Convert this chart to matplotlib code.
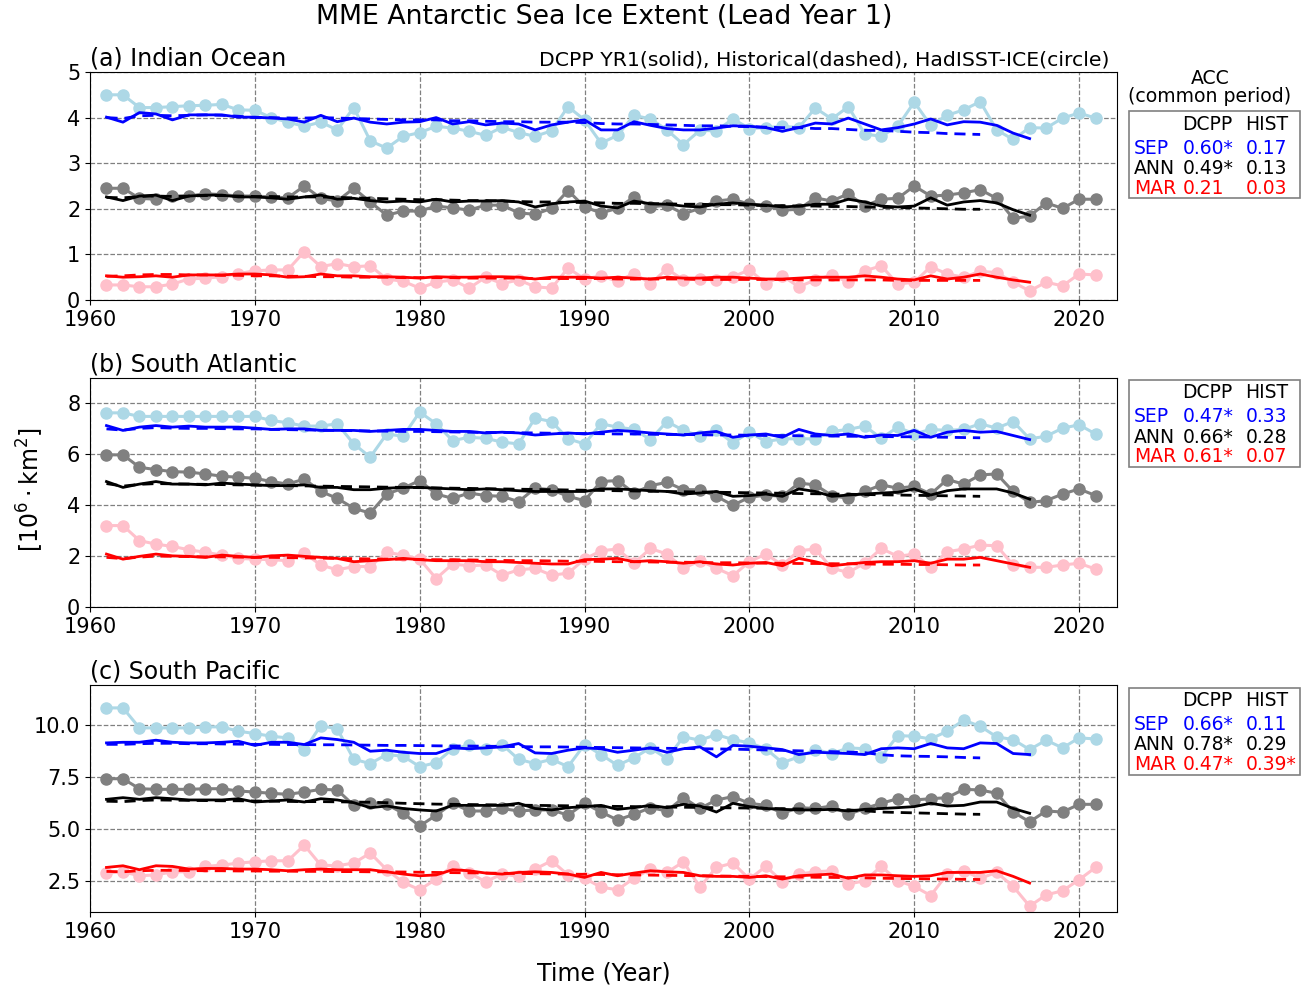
import numpy as np
import matplotlib
matplotlib.use("Agg")
import matplotlib.pyplot as plt
from matplotlib.patches import Rectangle

# ---------------- data ----------------
obs_start = 1961
dcpp_start = 1961
hist_start = 1961

regions = ["(a) Indian Ocean", "(b) South Atlantic", "(c) South Pacific"]

# Observations (HadISST-ICE), 1961-2021
obs_sep_a = [4.50, 4.50, 4.22, 4.22, 4.24, 4.26, 4.27, 4.29, 4.17, 4.16, 4.00, 3.90, 3.81, 3.90, 3.73, 4.22,
             3.49, 3.33, 3.59, 3.67, 3.81, 3.77, 3.70, 3.61, 3.79, 3.67, 3.59, 3.71, 4.24, 3.95, 3.44,
             3.61, 4.05, 3.97, 3.73, 3.41, 3.72, 3.71, 3.97, 3.76, 3.78, 3.81, 3.78, 4.21, 3.97, 4.24,
             3.64, 3.59, 3.81, 4.34, 3.83, 4.05, 4.17, 4.35, 3.73, 3.52, 3.78, 3.77, 3.99, 4.10, 3.99]
obs_ann_a = [2.45, 2.45, 2.23, 2.21, 2.28, 2.28, 2.33, 2.31, 2.28, 2.28, 2.26, 2.24, 2.50, 2.23, 2.17, 2.45,
             2.15, 1.86, 1.95, 1.95, 2.06, 2.02, 1.97, 2.08, 2.08, 1.91, 1.88, 2.01, 2.40, 2.04, 1.91,
             2.01, 2.26, 2.04, 2.08, 1.89, 2.01, 2.17, 2.21, 2.10, 2.06, 1.97, 1.99, 2.24, 2.17, 2.33,
             2.06, 2.21, 2.23, 2.50, 2.28, 2.30, 2.35, 2.42, 2.23, 1.79, 1.84, 2.13, 2.01, 2.21, 2.21]
obs_mar_a = [0.33, 0.33, 0.29, 0.29, 0.35, 0.46, 0.48, 0.51, 0.58, 0.64, 0.66, 0.66, 1.06, 0.73, 0.80, 0.73,
             0.75, 0.46, 0.41, 0.26, 0.39, 0.44, 0.26, 0.50, 0.36, 0.44, 0.29, 0.26, 0.70, 0.46, 0.53,
             0.41, 0.58, 0.36, 0.68, 0.44, 0.46, 0.44, 0.51, 0.66, 0.36, 0.53, 0.29, 0.44, 0.55, 0.39,
             0.64, 0.75, 0.35, 0.39, 0.73, 0.57, 0.50, 0.63, 0.60, 0.39, 0.20, 0.39, 0.31, 0.57, 0.55]

obs_sep_b = [7.63, 7.63, 7.49, 7.49, 7.49, 7.49, 7.49, 7.49, 7.49, 7.49, 7.33, 7.24, 7.11, 7.11, 7.20, 6.41,
             5.89, 6.80, 6.71, 7.66, 7.20, 6.54, 6.67, 6.63, 6.48, 6.41, 7.42, 7.29, 6.61, 6.41, 7.20,
             7.07, 6.98, 6.58, 7.29, 6.94, 6.71, 6.94, 6.45, 6.87, 6.50, 6.61, 6.61, 6.61, 6.90, 6.98,
             7.11, 6.63, 7.07, 6.80, 6.98, 6.94, 6.98, 7.20, 7.03, 7.29, 6.61, 6.71, 7.03, 7.16, 6.80]
obs_ann_b = [5.98, 5.98, 5.49, 5.40, 5.32, 5.30, 5.23, 5.14, 5.10, 5.06, 4.93, 4.83, 5.03, 4.54, 4.27, 3.88,
             3.69, 4.44, 4.67, 4.97, 4.44, 4.27, 4.48, 4.38, 4.35, 4.14, 4.67, 4.61, 4.35, 4.18, 4.93,
             4.97, 4.48, 4.77, 4.90, 4.61, 4.61, 4.35, 4.00, 4.31, 4.40, 4.35, 4.87, 4.80, 4.38, 4.27,
             4.54, 4.80, 4.67, 4.74, 4.44, 5.01, 4.83, 5.19, 5.23, 4.54, 4.11, 4.18, 4.44, 4.64, 4.38]
obs_mar_b = [3.20, 3.20, 2.61, 2.47, 2.38, 2.25, 2.15, 2.04, 1.91, 1.88, 1.86, 1.82, 2.12, 1.65, 1.46, 1.59,
             1.59, 2.15, 2.04, 1.88, 1.12, 1.69, 1.62, 1.65, 1.25, 1.46, 1.52, 1.25, 1.33, 1.88, 2.21,
             2.28, 1.72, 2.30, 2.08, 1.52, 1.82, 1.52, 1.23, 1.78, 2.08, 1.65, 2.21, 2.28, 1.52, 1.36,
             1.72, 2.30, 1.99, 2.08, 1.56, 2.17, 2.28, 2.43, 2.41, 1.65, 1.56, 1.56, 1.65, 1.72, 1.49]

obs_sep_c = [10.80, 10.80, 9.84, 9.84, 9.84, 9.84, 9.89, 9.89, 9.68, 9.57, 9.44, 9.36, 8.77, 9.95, 9.79, 8.33,
             8.13, 8.56, 8.48, 7.98, 8.17, 8.84, 9.00, 8.84, 9.04, 8.33, 8.13, 8.33, 7.98, 9.04, 8.56,
             8.04, 8.41, 8.88, 8.36, 9.41, 9.25, 9.52, 9.28, 9.12, 8.84, 8.17, 8.45, 8.80, 8.61, 8.88,
             8.84, 8.45, 9.47, 9.44, 9.31, 9.68, 10.21, 9.92, 9.41, 9.28, 8.80, 9.25, 8.88, 9.36, 9.31]
obs_ann_c = [7.40, 7.40, 6.92, 6.89, 6.89, 6.89, 6.92, 6.92, 6.81, 6.76, 6.70, 6.65, 6.76, 6.89, 6.86, 6.12,
             6.25, 6.17, 5.74, 5.13, 5.65, 6.22, 5.85, 5.85, 5.97, 5.85, 5.90, 5.90, 5.65, 6.22, 5.80,
             5.42, 5.69, 6.01, 5.85, 6.49, 5.97, 6.38, 6.54, 6.22, 6.12, 5.74, 6.01, 5.97, 6.09, 5.69,
             5.97, 6.22, 6.44, 6.38, 6.44, 6.49, 6.89, 6.86, 6.70, 5.80, 5.33, 5.85, 5.80, 6.17, 6.17]
obs_mar_c = [2.87, 2.93, 2.74, 2.78, 2.93, 2.93, 3.19, 3.25, 3.35, 3.41, 3.46, 3.46, 4.21, 3.25, 3.22, 3.35,
             3.83, 3.03, 2.42, 2.07, 2.58, 3.22, 2.87, 2.46, 2.82, 2.71, 3.06, 3.46, 2.78, 2.62, 2.19,
             2.07, 2.62, 3.06, 2.90, 3.41, 2.19, 3.14, 3.35, 2.58, 3.19, 2.46, 2.82, 2.93, 2.98, 2.34,
             2.50, 3.19, 2.50, 2.23, 1.79, 2.82, 2.98, 2.62, 2.90, 2.23, 1.28, 1.82, 2.02, 2.55, 3.14]

# DCPP YR1 multi-model mean, 1961-2017
dcpp_sep_a = [4.01, 3.90, 4.11, 4.08, 3.95, 4.06, 4.06, 4.06, 4.01, 4.01, 3.99, 3.97, 3.90, 4.05, 3.91, 3.99,
              3.90, 3.86, 3.90, 3.91, 4.00, 3.86, 3.91, 3.84, 3.88, 3.86, 3.73, 3.84, 3.90, 3.95, 3.73,
              3.73, 3.91, 3.83, 3.76, 3.73, 3.73, 3.77, 3.82, 3.81, 3.78, 3.70, 3.78, 3.88, 3.86, 3.99,
              3.86, 3.73, 3.78, 3.86, 3.97, 3.84, 3.91, 3.90, 3.83, 3.66, 3.54]
dcpp_ann_a = [2.26, 2.18, 2.28, 2.30, 2.18, 2.28, 2.30, 2.30, 2.26, 2.26, 2.24, 2.21, 2.26, 2.30, 2.21, 2.23,
              2.18, 2.15, 2.17, 2.15, 2.21, 2.15, 2.17, 2.17, 2.18, 2.15, 2.04, 2.11, 2.15, 2.17, 2.06,
              2.02, 2.17, 2.11, 2.10, 2.06, 2.04, 2.10, 2.13, 2.10, 2.08, 2.04, 2.06, 2.10, 2.10, 2.21,
              2.15, 2.06, 2.04, 2.06, 2.24, 2.08, 2.15, 2.18, 2.13, 1.98, 1.86]
dcpp_mar_a = [0.53, 0.50, 0.51, 0.53, 0.50, 0.55, 0.55, 0.55, 0.57, 0.57, 0.55, 0.50, 0.51, 0.57, 0.53, 0.53,
              0.51, 0.51, 0.50, 0.48, 0.51, 0.50, 0.50, 0.51, 0.51, 0.50, 0.46, 0.50, 0.50, 0.50, 0.48,
              0.50, 0.48, 0.46, 0.50, 0.48, 0.48, 0.50, 0.50, 0.48, 0.46, 0.46, 0.48, 0.50, 0.50, 0.50,
              0.53, 0.50, 0.46, 0.44, 0.53, 0.46, 0.50, 0.57, 0.50, 0.44, 0.39]

dcpp_sep_b = [7.13, 6.94, 7.07, 7.13, 7.07, 7.11, 7.07, 7.07, 7.07, 7.03, 6.98, 7.00, 7.00, 6.94, 6.94, 6.94,
              6.90, 6.94, 6.98, 6.98, 6.94, 6.90, 6.90, 6.84, 6.87, 6.84, 6.76, 6.80, 6.84, 6.80, 6.87,
              6.94, 6.90, 6.84, 6.80, 6.76, 6.84, 6.90, 6.67, 6.76, 6.80, 6.67, 6.98, 6.80, 6.74, 6.80,
              6.67, 6.76, 6.74, 6.94, 6.67, 6.87, 6.94, 6.87, 6.90, 6.74, 6.58]
dcpp_ann_b = [4.93, 4.70, 4.83, 4.93, 4.83, 4.83, 4.80, 4.87, 4.83, 4.80, 4.77, 4.77, 4.80, 4.70, 4.70, 4.61,
              4.61, 4.67, 4.70, 4.70, 4.67, 4.64, 4.61, 4.64, 4.61, 4.57, 4.54, 4.54, 4.54, 4.54, 4.64,
              4.64, 4.61, 4.57, 4.54, 4.44, 4.48, 4.54, 4.35, 4.38, 4.44, 4.35, 4.64, 4.54, 4.35, 4.40,
              4.44, 4.48, 4.51, 4.64, 4.40, 4.57, 4.64, 4.64, 4.64, 4.48, 4.24]
dcpp_mar_b = [2.08, 1.88, 1.99, 2.08, 2.01, 1.99, 1.95, 2.04, 1.99, 1.95, 2.01, 2.04, 1.99, 1.95, 1.91, 1.78,
              1.82, 1.86, 1.91, 1.86, 1.82, 1.82, 1.82, 1.78, 1.78, 1.75, 1.72, 1.69, 1.69, 1.86, 1.88,
              1.91, 1.78, 1.82, 1.78, 1.72, 1.78, 1.69, 1.65, 1.72, 1.75, 1.62, 1.91, 1.78, 1.62, 1.69,
              1.75, 1.78, 1.78, 1.82, 1.72, 1.88, 1.88, 1.95, 1.82, 1.69, 1.56]

dcpp_sep_c = [9.12, 9.15, 9.15, 9.25, 9.15, 9.12, 9.12, 9.15, 9.20, 9.00, 9.15, 9.15, 9.04, 9.36, 9.28, 9.15,
              8.72, 8.77, 8.67, 8.61, 8.61, 8.88, 8.84, 8.88, 8.93, 9.09, 8.64, 8.61, 8.77, 8.88, 8.84,
              8.67, 8.77, 8.88, 8.67, 8.84, 8.93, 8.45, 9.00, 8.96, 8.88, 8.80, 8.56, 8.67, 8.64, 8.61,
              8.56, 8.84, 8.88, 8.84, 9.09, 8.88, 8.84, 9.12, 9.09, 8.61, 8.56]
dcpp_ann_c = [6.41, 6.49, 6.41, 6.49, 6.44, 6.38, 6.38, 6.38, 6.44, 6.28, 6.33, 6.38, 6.28, 6.44, 6.38, 6.25,
              6.01, 6.09, 5.97, 5.90, 5.85, 6.12, 6.12, 6.12, 6.12, 6.22, 5.97, 5.90, 6.01, 6.06, 6.12,
              5.93, 6.01, 6.12, 6.01, 6.17, 6.09, 5.80, 6.22, 6.06, 5.97, 5.93, 5.90, 5.90, 5.93, 5.85,
              5.93, 5.97, 6.01, 6.06, 6.22, 6.09, 6.12, 6.28, 6.28, 5.97, 5.74]
dcpp_mar_c = [3.14, 3.22, 3.03, 3.22, 3.19, 3.06, 3.09, 3.09, 3.06, 3.06, 3.03, 2.98, 3.03, 3.06, 3.03, 3.03,
              3.03, 2.93, 2.82, 2.74, 2.78, 3.03, 2.98, 2.87, 2.82, 2.90, 2.93, 2.90, 2.82, 2.66, 2.90,
              2.74, 2.87, 2.98, 2.93, 2.90, 2.74, 2.71, 2.71, 2.66, 2.74, 2.58, 2.74, 2.78, 2.82, 2.62,
              2.78, 2.78, 2.74, 2.71, 2.74, 2.90, 2.90, 2.90, 2.98, 2.71, 2.39]

# Historical multi-model mean, 1961-2014
hist_sep_a = [4.00, 3.98, 4.04, 4.05, 4.04, 4.05, 4.06, 4.05, 4.03, 4.00, 4.00, 3.99, 3.99, 4.00, 3.99, 3.98,
              3.97, 3.96, 3.95, 3.95, 3.95, 3.93, 3.93, 3.92, 3.91, 3.91, 3.90, 3.90, 3.90, 3.89, 3.87,
              3.86, 3.86, 3.85, 3.84, 3.83, 3.82, 3.82, 3.81, 3.80, 3.79, 3.78, 3.78, 3.76, 3.76, 3.74,
              3.72, 3.72, 3.70, 3.68, 3.67, 3.65, 3.64, 3.63]
hist_ann_a = [2.25, 2.24, 2.27, 2.28, 2.27, 2.28, 2.29, 2.29, 2.28, 2.27, 2.27, 2.26, 2.26, 2.26, 2.25, 2.24,
              2.23, 2.22, 2.21, 2.20, 2.20, 2.19, 2.18, 2.18, 2.17, 2.16, 2.15, 2.15, 2.14, 2.14, 2.13,
              2.12, 2.12, 2.11, 2.11, 2.10, 2.10, 2.09, 2.09, 2.08, 2.07, 2.07, 2.06, 2.06, 2.05, 2.05,
              2.04, 2.03, 2.03, 2.02, 2.01, 2.00, 1.99, 1.99]
hist_mar_a = [0.52, 0.53, 0.55, 0.56, 0.56, 0.55, 0.55, 0.54, 0.54, 0.53, 0.53, 0.52, 0.52, 0.51, 0.51, 0.50,
              0.50, 0.50, 0.49, 0.49, 0.49, 0.49, 0.48, 0.48, 0.48, 0.48, 0.47, 0.47, 0.47, 0.47, 0.47,
              0.46, 0.46, 0.46, 0.46, 0.46, 0.45, 0.45, 0.45, 0.45, 0.45, 0.45, 0.44, 0.44, 0.44, 0.44,
              0.44, 0.44, 0.43, 0.43, 0.43, 0.43, 0.43, 0.43]

hist_sep_b = [7.00, 6.95, 7.02, 7.05, 7.03, 7.02, 7.02, 7.01, 7.00, 7.00, 6.98, 6.97, 6.96, 6.95, 6.94, 6.93,
              6.92, 6.91, 6.90, 6.90, 6.89, 6.88, 6.87, 6.86, 6.86, 6.85, 6.84, 6.83, 6.82, 6.82, 6.81,
              6.80, 6.80, 6.79, 6.78, 6.78, 6.77, 6.76, 6.76, 6.75, 6.74, 6.74, 6.73, 6.72, 6.72, 6.71,
              6.71, 6.70, 6.69, 6.69, 6.68, 6.67, 6.66, 6.65]
hist_ann_b = [4.85, 4.75, 4.82, 4.85, 4.84, 4.83, 4.82, 4.81, 4.80, 4.79, 4.78, 4.77, 4.76, 4.75, 4.74, 4.73,
              4.72, 4.71, 4.70, 4.69, 4.68, 4.67, 4.66, 4.65, 4.64, 4.63, 4.62, 4.61, 4.60, 4.59, 4.58,
              4.57, 4.56, 4.55, 4.54, 4.53, 4.52, 4.51, 4.50, 4.49, 4.48, 4.47, 4.46, 4.45, 4.44, 4.43,
              4.42, 4.41, 4.40, 4.39, 4.38, 4.37, 4.36, 4.35]
hist_mar_b = [1.95, 1.90, 1.96, 2.00, 1.99, 1.98, 1.97, 1.97, 1.96, 1.95, 1.95, 1.94, 1.93, 1.92, 1.91, 1.90,
              1.89, 1.88, 1.88, 1.87, 1.86, 1.86, 1.85, 1.84, 1.83, 1.82, 1.82, 1.81, 1.80, 1.80, 1.79,
              1.78, 1.78, 1.77, 1.76, 1.76, 1.75, 1.74, 1.74, 1.73, 1.72, 1.72, 1.71, 1.71, 1.70, 1.70,
              1.69, 1.68, 1.68, 1.67, 1.67, 1.66, 1.65, 1.65]

hist_sep_c = [9.05, 9.05, 9.08, 9.10, 9.10, 9.08, 9.08, 9.07, 9.06, 9.05, 9.05, 9.04, 9.04, 9.03, 9.03, 9.02,
              9.01, 9.00, 9.00, 8.99, 8.98, 8.97, 8.97, 8.96, 8.95, 8.94, 8.93, 8.93, 8.92, 8.91, 8.90,
              8.89, 8.88, 8.87, 8.86, 8.85, 8.84, 8.83, 8.82, 8.80, 8.78, 8.76, 8.74, 8.72, 8.70, 8.68,
              8.65, 8.55, 8.50, 8.48, 8.47, 8.45, 8.42, 8.40]
hist_ann_c = [6.32, 6.30, 6.35, 6.38, 6.37, 6.36, 6.35, 6.34, 6.34, 6.33, 6.32, 6.31, 6.30, 6.30, 6.29, 6.28,
              6.27, 6.25, 6.22, 6.20, 6.18, 6.17, 6.16, 6.15, 6.14, 6.13, 6.12, 6.11, 6.10, 6.09, 6.08,
              6.07, 6.06, 6.05, 6.04, 6.03, 6.02, 6.01, 6.00, 5.99, 5.98, 5.96, 5.95, 5.93, 5.92, 5.90,
              5.86, 5.80, 5.78, 5.76, 5.74, 5.72, 5.70, 5.69]
hist_mar_c = [2.95, 2.93, 2.98, 3.00, 3.00, 2.99, 2.98, 2.98, 2.97, 2.97, 2.96, 2.96, 2.95, 2.95, 2.94, 2.94,
              2.93, 2.93, 2.92, 2.91, 2.90, 2.89, 2.88, 2.87, 2.86, 2.85, 2.84, 2.83, 2.82, 2.81, 2.80,
              2.79, 2.78, 2.77, 2.76, 2.75, 2.74, 2.73, 2.72, 2.71, 2.70, 2.69, 2.68, 2.67, 2.66, 2.65,
              2.64, 2.62, 2.61, 2.60, 2.59, 2.58, 2.57, 2.56]

# ACC scores
acc_rows = ["SEP", "ANN", "MAR"]
acc_dcpp = [["0.60*", "0.49*", "0.21"], ["0.47*", "0.66*", "0.61*"], ["0.66*", "0.78*", "0.47*"]]
acc_hist = [["0.17", "0.13", "0.03"], ["0.33", "0.28", "0.07"], ["0.11", "0.29", "0.39*"]]

ylims = [(0, 5), (0, 9), (1, 11.9)]
yticks = [[0, 1, 2, 3, 4, 5], [0, 2, 4, 6, 8], [2.5, 5.0, 7.5, 10.0]]
xticks = [1960, 1970, 1980, 1990, 2000, 2010, 2020]

obs_all = [[obs_sep_a, obs_ann_a, obs_mar_a], [obs_sep_b, obs_ann_b, obs_mar_b], [obs_sep_c, obs_ann_c, obs_mar_c]]
dcpp_all = [[dcpp_sep_a, dcpp_ann_a, dcpp_mar_a], [dcpp_sep_b, dcpp_ann_b, dcpp_mar_b], [dcpp_sep_c, dcpp_ann_c, dcpp_mar_c]]
hist_all = [[hist_sep_a, hist_ann_a, hist_mar_a], [hist_sep_b, hist_ann_b, hist_mar_b], [hist_sep_c, hist_ann_c, hist_mar_c]]

obs_colors = ["lightblue", "gray", "pink"]
mod_colors = ["blue", "black", "red"]

# ---------------- figure ----------------
W, H = 1303, 990
fig = plt.figure(figsize=(W / 100, H / 100), dpi=100)

def fx(x):
    return x / W

def fy(y):
    return 1 - y / H

axes_px = [(72, 300), (378, 607), (685, 912)]
left_px, right_px = 90, 1117

for i, (top, bot) in enumerate(axes_px):
    ax = fig.add_axes([fx(left_px), fy(bot), fx(right_px - left_px), (bot - top) / H])
    for k in range(3):
        ob = obs_all[i][k]
        ax.plot(np.arange(obs_start, obs_start + len(ob)), ob, color=obs_colors[k], lw=2.2,
                marker="o", ms=8, zorder=2)
    for k in range(3):
        dc = dcpp_all[i][k]
        hs = hist_all[i][k]
        ax.plot(np.arange(dcpp_start, dcpp_start + len(dc)), dc, color=mod_colors[k], lw=2.0, zorder=3)
        ax.plot(np.arange(hist_start, hist_start + len(hs)), hs, color=mod_colors[k], lw=2.0,
                ls=(0, (4, 2.5)), zorder=3)
    ax.set_xlim(1960, 2022.3)
    ax.set_ylim(*ylims[i])
    ax.set_xticks(xticks)
    ax.set_yticks(yticks[i])
    if i == 2:
        ax.set_yticklabels(["2.5", "5.0", "7.5", "10.0"])
    ax.tick_params(labelsize=15)
    ax.grid(True, color="gray", ls="--", lw=0.9)
    ax.set_title(regions[i], loc="left", fontsize=17, pad=5)
    if i == 0:
        ax.text(0.993, 1.01, "DCPP YR1(solid), Historical(dashed), HadISST-ICE(circle)",
                transform=ax.transAxes, ha="right", va="bottom", fontsize=14.7)
    if i == 2:
        ax.set_xlabel("Time (Year)", fontsize=17, labelpad=14)

fig.text(fx(604), fy(17), "MME Antarctic Sea Ice Extent (Lead Year 1)", ha="center", va="center", fontsize=19.3)
fig.text(fx(30), fy(490), r"[10$^6\cdot$km$^2$]", rotation=90, ha="center", va="center", fontsize=17)

fig.text(fx(1210), fy(78), "ACC", ha="center", va="center", fontsize=13.6)
fig.text(fx(1210), fy(97), "(common period)", ha="center", va="center", fontsize=13.6)

box_tops = [111, 380, 688]
box_h = 87
for i, bt in enumerate(box_tops):
    rect = Rectangle((fx(1129), fy(bt + box_h)), fx(1300 - 1129), box_h / H,
                     transform=fig.transFigure, fill=False, edgecolor="gray", lw=1.2)
    fig.add_artist(rect)
    fig.text(fx(1182), fy(bt + 13), "DCPP", ha="left", va="center", fontsize=13.5)
    fig.text(fx(1245), fy(bt + 13), "HIST", ha="left", va="center", fontsize=13.5)
    for k in range(3):
        yy = fy(bt + 37 + 20 * k)
        fig.text(fx(1134), yy, acc_rows[k], ha="left", va="center", fontsize=13.5, color=mod_colors[k])
        fig.text(fx(1183), yy, acc_dcpp[i][k], ha="left", va="center", fontsize=13.5, color=mod_colors[k])
        fig.text(fx(1246), yy, acc_hist[i][k], ha="left", va="center", fontsize=13.5, color=mod_colors[k])

fig.savefig("out.png", dpi=100)
